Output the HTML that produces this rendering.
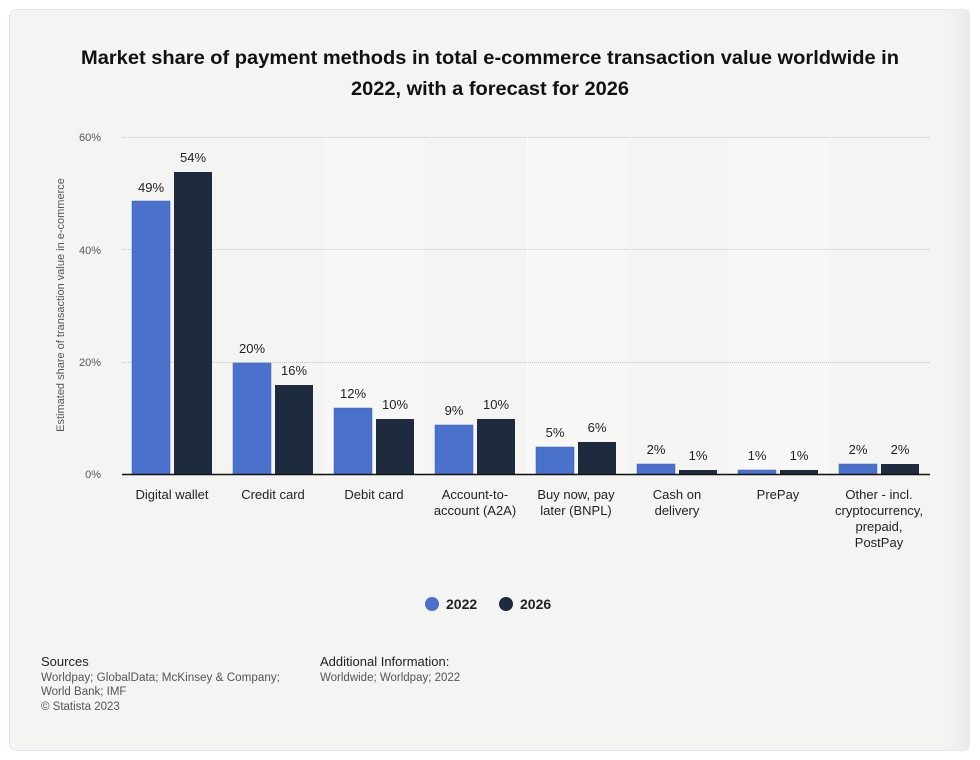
<!DOCTYPE html>
<html><head><meta charset="utf-8"><style>
html,body{margin:0;padding:0;background:#fff;}
svg{display:block;font-family:"Liberation Sans",Arial,sans-serif;}
</style></head><body>
<svg width="980" height="760" viewBox="0 0 980 760" xmlns="http://www.w3.org/2000/svg">
<defs>
<linearGradient id="fade" x1="0" x2="1"><stop offset="0" stop-color="#f4f4f3" stop-opacity="0"/><stop offset="1" stop-color="#e9e9e9"/></linearGradient>
</defs>
<rect x="9.5" y="9.5" width="960" height="741" rx="7" fill="#f4f4f3" stroke="#dde6f2"/>
<rect x="935" y="10" width="34" height="740" fill="url(#fade)"/>
<g fill="#f7f7f6">
<rect x="324" y="137" width="101" height="337"/>
<rect x="526" y="137" width="101" height="337"/>
<rect x="728" y="137" width="101" height="337"/>
</g>
<text x="490" y="64" text-anchor="middle" font-size="19" font-weight="bold" fill="#111" textLength="818" lengthAdjust="spacingAndGlyphs">Market share of payment methods in total e-commerce transaction value worldwide in</text>
<text x="490" y="95" text-anchor="middle" font-size="19" font-weight="bold" fill="#111" textLength="278" lengthAdjust="spacingAndGlyphs">2022, with a forecast for 2026</text>
<g stroke="#c4c4c4" stroke-dasharray="1,1" stroke-width="1">
<line x1="122" x2="930" y1="137.5" y2="137.5"/>
<line x1="122" x2="930" y1="249.5" y2="249.5"/>
<line x1="122" x2="930" y1="362.5" y2="362.5"/>
</g>
<g font-size="11" fill="#555" text-anchor="end">
<text x="101" y="141">60%</text>
<text x="101" y="254">40%</text>
<text x="101" y="366">20%</text>
<text x="101" y="478">0%</text>
</g>
<text transform="translate(64,305) rotate(-90)" text-anchor="middle" font-size="11" fill="#555">Estimated share of transaction value in e-commerce</text>
<g fill="#4a72cc" stroke="#3a5fb0" stroke-width="0.5">
<rect x="132" y="201" width="38" height="273"/>
<rect x="233" y="363" width="38" height="111"/>
<rect x="334" y="408" width="38" height="66"/>
<rect x="435" y="425" width="38" height="49"/>
<rect x="536" y="447" width="38" height="27"/>
<rect x="637" y="464" width="38" height="10"/>
<rect x="738" y="470" width="38" height="4"/>
<rect x="839" y="464" width="38" height="10"/>
</g>
<g fill="#1e2a3d">
<rect x="174" y="172" width="38" height="302"/>
<rect x="275" y="385" width="38" height="89"/>
<rect x="376" y="419" width="38" height="55"/>
<rect x="477" y="419" width="38" height="55"/>
<rect x="578" y="442" width="38" height="32"/>
<rect x="679" y="470" width="38" height="4"/>
<rect x="780" y="470" width="38" height="4"/>
<rect x="881" y="464" width="38" height="10"/>
</g>
<line x1="122" x2="930" y1="474.5" y2="474.5" stroke="#111" stroke-width="1.5"/>
<g font-size="13" fill="#222" text-anchor="middle">
<text x="151" y="192">49%</text><text x="193" y="162">54%</text>
<text x="252" y="353">20%</text><text x="294" y="375">16%</text>
<text x="353" y="398">12%</text><text x="395" y="409">10%</text>
<text x="454" y="415">9%</text><text x="496" y="409">10%</text>
<text x="555" y="437">5%</text><text x="597" y="432">6%</text>
<text x="656" y="454">2%</text><text x="698" y="460">1%</text>
<text x="757" y="460">1%</text><text x="799" y="460">1%</text>
<text x="858" y="454">2%</text><text x="900" y="454">2%</text>
</g>
<g font-size="13" fill="#222" text-anchor="middle">
<text x="172" y="499">Digital wallet</text>
<text x="273" y="499">Credit card</text>
<text x="374" y="499">Debit card</text>
<text x="475" y="499">Account-to-</text><text x="475" y="515">account (A2A)</text>
<text x="576" y="499">Buy now, pay</text><text x="576" y="515">later (BNPL)</text>
<text x="677" y="499">Cash on</text><text x="677" y="515">delivery</text>
<text x="778" y="499">PrePay</text>
<text x="879" y="499">Other - incl.</text><text x="879" y="515">cryptocurrency,</text><text x="879" y="531">prepaid,</text><text x="879" y="547">PostPay</text>
</g>
<circle cx="432" cy="604" r="7" fill="#4a72cc"/>
<text x="446" y="609" font-size="14" font-weight="bold" fill="#222">2022</text>
<circle cx="506" cy="604" r="7" fill="#1e2a3d"/>
<text x="520" y="609" font-size="14" font-weight="bold" fill="#222">2026</text>
<text x="41" y="666" font-size="13" fill="#222">Sources</text>
<g font-size="11.5" fill="#555">
<text x="41" y="681" textLength="239" lengthAdjust="spacingAndGlyphs">Worldpay; GlobalData; McKinsey &amp; Company;</text>
<text x="41" y="695">World Bank; IMF</text>
<text x="41" y="710">© Statista 2023</text>
</g>
<text x="320" y="666" font-size="13" fill="#222">Additional Information:</text>
<text x="320" y="681" font-size="11.5" fill="#555">Worldwide; Worldpay; 2022</text>
</svg>
</body></html>
